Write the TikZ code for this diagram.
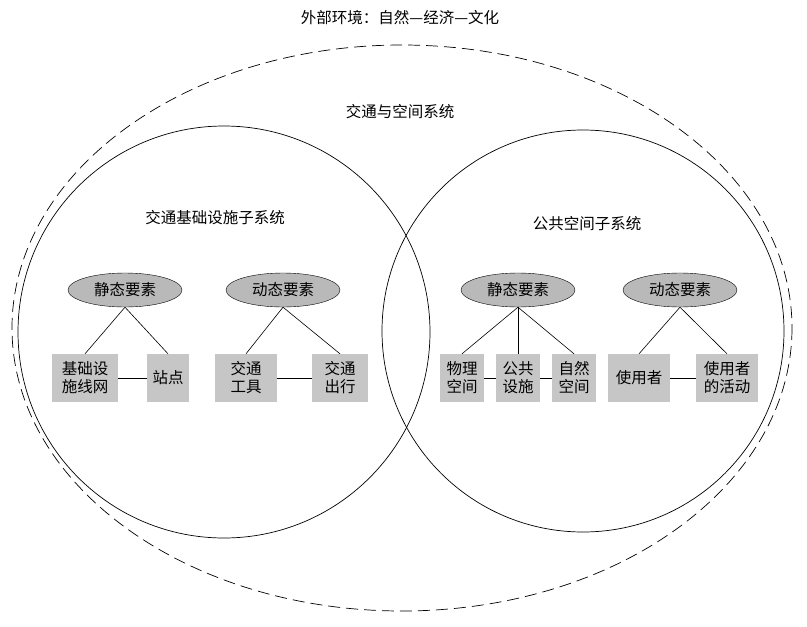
\documentclass[tikz,border=0pt]{standalone}
\usepackage{fontspec}
\setmainfont{Noto Sans CJK SC}
\usetikzlibrary{shapes.geometric}
\begin{document}
\begin{tikzpicture}[x=1pt,y=-1pt,font=\fontsize{15.5}{18}\selectfont,
 el/.style={ellipse,draw,fill=gray!55,minimum width=114pt,minimum height=34pt,inner sep=0pt},
 bx/.style={fill=gray!45,minimum height=48pt,inner sep=1pt,align=center},
 ln/.style={line width=0.6pt}]
\useasboundingbox (0,0) rectangle (807,627);
\draw[dashed,dash pattern=on 12pt off 6pt,line width=0.7pt] (402,328) ellipse [x radius=390,y radius=283];
\draw[line width=0.7pt] (224,332) circle [radius=206];
\draw[line width=0.7pt] (583,331) circle [radius=201];
\node (t0) at (400,18) {外部环境：自然—经济—文化};
\node (t1) at (400,112) {交通与空间系统};
\node (t2) at (215,218) {交通基础设施子系统};
\node (t3) at (587,224) {公共空间子系统};
\node[el] (e1) at (125,290) {静态要素};
\node[el] (e2) at (283,290) {动态要素};
\node[el] (e3) at (518,290) {静态要素};
\node[el] (e4) at (680,290) {动态要素};
\node[bx,minimum width=66pt] (b1) at (85,378) {基础设\\施线网};
\node[bx,minimum width=42pt] (b2) at (168,378) {站点};
\node[bx,minimum width=62pt] (b3) at (246,378) {交通\\工具};
\node[bx,minimum width=56pt] (b4) at (340,378) {交通\\出行};
\node[bx,minimum width=44pt] (b5) at (462,378) {物理\\空间};
\node[bx,minimum width=44pt] (b6) at (518,378) {公共\\设施};
\node[bx,minimum width=44pt] (b7) at (574,378) {自然\\空间};
\node[bx,minimum width=62pt] (b8) at (639,378) {使用者};
\node[bx,minimum width=62pt] (b9) at (727,378) {使用者\\的活动};
\foreach \e/\b in {e1/b1,e1/b2,e2/b3,e2/b4,e3/b5,e3/b6,e3/b7,e4/b8,e4/b9}
  \draw[ln] (\e.south) -- (\b.north);
\foreach \a/\b in {b1/b2,b3/b4,b5/b6,b6/b7,b8/b9}
  \draw[ln] (\a.east) -- (\b.west);
\end{tikzpicture}
\end{document}
